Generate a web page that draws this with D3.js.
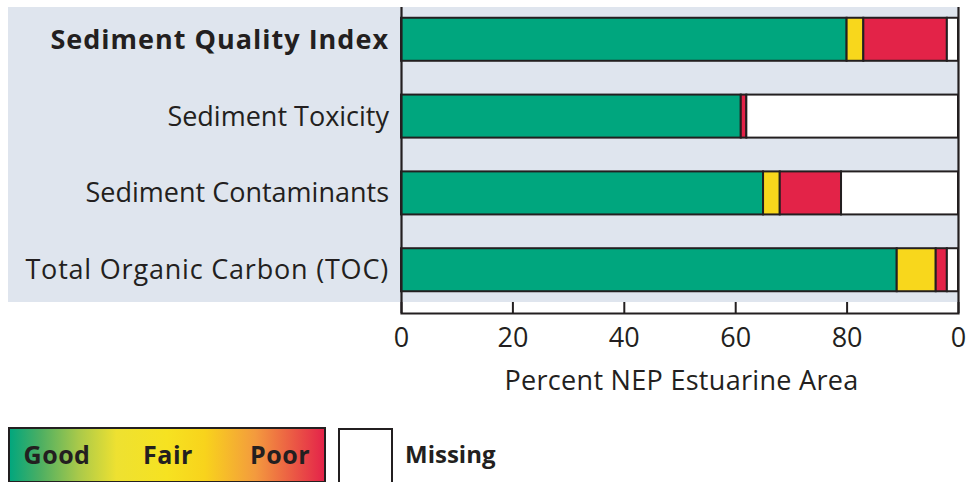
<!DOCTYPE html>
<html>
<head>
<meta charset="utf-8">
<script src="https://cdn.jsdelivr.net/npm/d3@7/dist/d3.min.js"></script>
<style>
  html, body { margin: 0; padding: 0; background: #ffffff; }
  svg { display: block; }
</style>
</head>
<body>
<svg id="chart" width="968" height="482"></svg>
<script>
// Indicator categories (top to bottom)
const categories = [
  "Sediment Quality Index",
  "Sediment Toxicity",
  "Sediment Contaminants",
  "Total Organic Carbon (TOC)"
];
// Percent of estuarine area in each condition class
const good    = [80, 61, 65, 89];
const fair    = [3, 0, 3, 7];
const poor    = [15, 1, 11, 2];
const missing = [2, 38, 21, 2];

const tickValues = [0, 20, 40, 60, 80, 100];
const tickLabels = ["0", "20", "40", "60", "80", "0"];
const axisTitle = "Percent NEP Estuarine Area";
const legendGradientLabels = ["Good", "Fair", "Poor"];
const legendMissingLabel = "Missing";

const keys = ["good", "fair", "poor", "missing"];
const colors = { good: "#00a67e", fair: "#f8d71c", poor: "#e32348", missing: "#ffffff" };
const ink = "#231f20";
const panel = "#dfe5ee";

const rows = categories.map((c, i) => ({
  category: c, good: good[i], fair: fair[i], poor: poor[i], missing: missing[i]
}));

const svg = d3.select("#chart");
const font = "'Open Sans', sans-serif";

const x = d3.scaleLinear().domain([0, 100]).range([401, 958]);
const y = d3.scaleBand().domain(categories).range([7, 302]).paddingInner(0.44).paddingOuter(0.14);
const axisY = 313;

// shaded panel behind labels and bars
svg.append("rect")
  .attr("x", 8).attr("y", 7)
  .attr("width", 958 - 8).attr("height", 302 - 7)
  .attr("fill", panel);

// stacked bars
const series = d3.stack().keys(keys)(rows);
svg.append("g").selectAll("g")
  .data(series).join("g")
  .attr("fill", d => colors[d.key])
  .selectAll("rect")
  .data(d => d.filter(s => s[1] - s[0] > 0))
  .join("rect")
  .attr("x", d => x(d[0]))
  .attr("y", d => y(d.data.category))
  .attr("width", d => x(d[1]) - x(d[0]))
  .attr("height", y.bandwidth())
  .attr("stroke", ink)
  .attr("stroke-width", 2);

// category labels
svg.append("g").selectAll("text")
  .data(categories).join("text")
  .attr("x", 389)
  .attr("y", d => y(d) + y.bandwidth() / 2)
  .attr("dy", "0.35em")
  .attr("text-anchor", "end")
  .attr("font-family", font)
  .attr("font-size", 27)
  .attr("letter-spacing", (d, i) => i === 0 ? 1 : (i === 3 ? 0.8 : 0))
  .attr("font-weight", (d, i) => i === 0 ? 700 : 400)
  .attr("fill", ink)
  .text(d => d);

// x axis with frame (outer ticks run up the full plot height)
const axis = d3.axisBottom(x)
  .tickValues(tickValues)
  .tickFormat((d, i) => tickLabels[i])
  .tickSizeInner(-11)
  .tickSizeOuter(-(axisY - 7))
  .tickPadding(15);

const gx = svg.append("g")
  .attr("transform", `translate(0,${axisY})`)
  .call(axis);
gx.select(".domain").attr("stroke", ink).attr("stroke-width", 2.2).attr("fill", "none");
gx.selectAll(".tick line").attr("stroke", ink).attr("stroke-width", 2);
gx.selectAll(".tick text")
  .attr("font-family", font)
  .attr("font-size", 27)
  .attr("fill", ink);

svg.append("text")
  .attr("x", (x(0) + x(100)) / 2 + 2)
  .attr("y", 390)
  .attr("text-anchor", "middle")
  .attr("font-family", font)
  .attr("font-size", 27)
  .attr("letter-spacing", 0.3)
  .attr("fill", ink)
  .text(axisTitle);

// legend: condition gradient
const defs = svg.append("defs");
const grad = defs.append("linearGradient").attr("id", "condGrad")
  .attr("x1", "0%").attr("x2", "100%").attr("y1", "0%").attr("y2", "0%");
[
  [0, "#00a67e"], [0.1, "#4daf62"], [0.22, "#a9c94a"], [0.34, "#eee131"],
  [0.5, "#f6e221"], [0.62, "#f8d31c"], [0.78, "#f39a3e"], [1, "#e4224a"]
].forEach(([o, c]) => grad.append("stop").attr("offset", o).attr("stop-color", c));

svg.append("rect")
  .attr("x", 9).attr("y", 428)
  .attr("width", 316).attr("height", 54)
  .attr("fill", "url(#condGrad)")
  .attr("stroke", ink).attr("stroke-width", 2);

const legendX = [57, 168, 280];
svg.append("g").selectAll("text")
  .data(legendGradientLabels).join("text")
  .attr("x", (d, i) => legendX[i])
  .attr("y", 455)
  .attr("dy", "0.35em")
  .attr("text-anchor", "middle")
  .attr("font-family", font)
  .attr("font-size", 25)
  .attr("letter-spacing", 0.5)
  .attr("font-weight", 700)
  .attr("fill", ink)
  .text(d => d);

svg.append("rect")
  .attr("x", 339).attr("y", 429)
  .attr("width", 53).attr("height", 54)
  .attr("fill", colors.missing)
  .attr("stroke", ink).attr("stroke-width", 2);

svg.append("text")
  .attr("x", 405).attr("y", 455)
  .attr("dy", "0.35em")
  .attr("font-family", font)
  .attr("font-size", 24)
  .attr("font-weight", 700)
  .attr("fill", ink)
  .text(legendMissingLabel);
</script>
</body>
</html>
